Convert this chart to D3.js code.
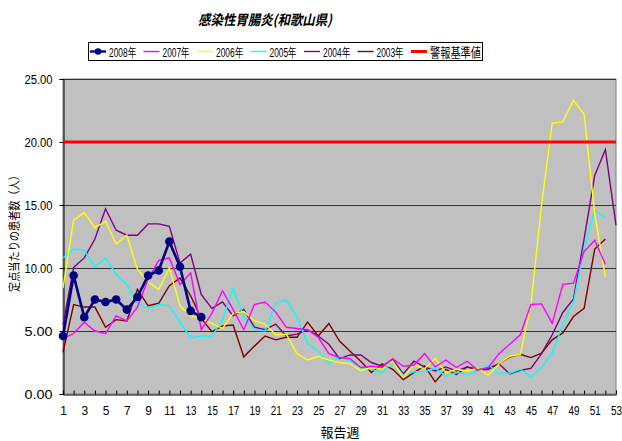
<!DOCTYPE html>
<html><head><meta charset="utf-8">
<script src="https://cdn.jsdelivr.net/npm/d3@7"></script>
<style>
html,body{margin:0;padding:0;background:#fff;}
svg{display:block;}
</style></head>
<body>
<svg id="chart" width="622" height="441"></svg>
<script>
// ---- data ----
const weeks = d3.range(1, 54);
const xTickLabels = d3.range(1, 54, 2);
const yTicks = [0, 5, 10, 15, 20, 25];
const seriesNames = ["2008年", "2007年", "2006年", "2005年", "2004年", "2003年"];
const alertName = "警報基準値";
const alertLevel = 20;

const s2008 = [4.6, 9.4, 6.1, 7.5, 7.3, 7.5, 6.7, 7.7, 9.4, 9.8, 12.1, 10.1, 6.6, 6.1];
const s2007 = [4.4, 4.8, 5.7, 5.0, 4.8, 6.2, 5.8, 6.9, 9.1, 10.6, 10.8, 8.7, 9.6, 5.1, 6.4, 8.2, 6.7, 5.1, 7.1, 7.3,
  6.5, 5.3, 5.2, 5.1, 4.5, 3.2, 2.9, 2.8, 2.1, 2.2, 2.1, 2.8, 2.2, 2.3, 3.2, 2.15, 2.7, 2.1, 2.6, 1.9,
  2.1, 3.2, 3.95, 4.7, 7.1, 7.15, 5.6, 8.7, 8.8, 11.3, 12.2, 10.3];
const s2006 = [8.4, 13.8, 14.4, 13.2, 13.7, 11.9, 12.6, 9.9, 8.9, 8.3, 10.0, 7.0, 6.2, 5.95, 5.6, 5.2, 6.4, 6.55, 5.8, 5.55,
  4.7, 4.75, 3.2, 2.7, 2.97, 2.7, 2.5, 2.4, 1.85, 2.1, 2.0, 2.6, 1.3, 2.3, 2.0, 2.84, 1.7, 1.96, 1.83, 2.04,
  1.5, 2.4, 3.0, 3.15, 7.1, 15.0, 21.5, 21.6, 23.3, 22.2, 14.3, 9.3];
const s2005 = [10.8, 11.5, 11.4, 10.1, 10.8, 9.5, 8.7, 7.2, 6.8, 7.1, 7.0, 5.7, 4.45, 4.6, 4.6, 5.9, 8.4, 6.1, 5.15, 5.0,
  7.2, 7.45, 6.1, 4.0, 3.4, 2.4, 2.95, 2.6, 2.1, 1.96, 1.7, 2.5, 1.5, 1.75, 1.8, 2.04, 1.43, 1.7, 1.56, 1.83,
  2.3, 1.65, 1.65, 1.96, 1.35, 2.1, 3.25, 5.5, 7.3, 11.5, 14.6, 14.0];
const s2004 = [5.5, 10.05, 10.8, 12.3, 14.7, 13.0, 12.6, 12.6, 13.5, 13.5, 13.3, 10.4, 11.1, 7.9, 6.8, 7.3, 6.2, 6.7, 5.3, 5.1,
  5.55, 4.6, 4.75, 5.1, 4.6, 3.95, 2.8, 3.1, 3.1, 2.5, 2.2, 2.76, 1.6, 2.6, 2.15, 1.83, 2.15, 1.83, 2.15, 1.88,
  1.96, 2.4, 1.6, 1.88, 2.04, 3.2, 4.7, 6.47, 7.55, 12.3, 17.35, 19.4, 13.4];
const s2003 = [3.3, 7.1, 6.9, 6.9, 5.3, 5.9, 5.8, 8.3, 7.0, 7.2, 8.6, 9.2, 7.8, 6.0, 4.95, 5.4, 5.47, 2.95, 3.8, 4.6,
  4.3, 4.5, 4.5, 5.7, 4.6, 5.6, 4.2, 3.4, 2.6, 1.7, 2.4, 1.96, 1.15, 1.7, 2.23, 0.96, 1.96, 1.56, 2.15, 1.96,
  2.04, 2.41, 2.94, 3.15, 2.89, 3.25, 4.3, 4.85, 6.15, 6.8, 11.5, 12.3];

const seriesValues = [s2008, s2007, s2006, s2005, s2004, s2003];
const seriesColors = ["#000080", "#FF00FF", "#FFFF00", "#00FFFF", "#800080", "#800000"];
const alertColor = "#FF0000";

// ---- layout ----
const svg = d3.select("#chart");
const plot = {left: 63, right: 616, top: 79, bottom: 394};
const x = d3.scaleLinear().domain([1, 53]).range([plot.left, plot.right]);
const y = d3.scaleLinear().domain([0, 25]).range([plot.bottom, plot.top]);
const numFont = "'Liberation Sans', Arial, sans-serif";
const cjkFont = "'Noto Sans CJK JP', 'Noto Sans CJK SC', sans-serif";

// title
svg.append("text")
  .attr("x", 265).attr("y", 25)
  .attr("text-anchor", "middle")
  .attr("font-family", cjkFont)
  .attr("font-size", 14).attr("font-weight", "bold").attr("font-style", "italic")
  .attr("textLength", 134).attr("lengthAdjust", "spacingAndGlyphs")
  .text("感染性胃腸炎(和歌山県)");

// plot area
svg.append("rect")
  .attr("x", plot.left).attr("y", plot.top)
  .attr("width", plot.right - plot.left).attr("height", plot.bottom - plot.top)
  .attr("fill", "#C0C0C0").attr("stroke", "#808080").attr("stroke-width", 1);

// gridlines
svg.append("g").selectAll("line").data(yTicks.filter(d => d > 0)).join("line")
  .attr("x1", plot.left).attr("x2", plot.right)
  .attr("y1", d => Math.round(y(d)) + 0.5).attr("y2", d => Math.round(y(d)) + 0.5)
  .attr("stroke", "#333").attr("stroke-width", 1);

// axes
const yAxis = d3.axisLeft(y).tickValues(yTicks).tickSize(4).tickPadding(7).tickFormat(d3.format(".2f"));
const gy = svg.append("g").attr("transform", `translate(${plot.left + 0.5},0)`).call(yAxis);
gy.select(".domain").attr("stroke", "#000");
gy.selectAll("text").attr("font-family", numFont).attr("font-size", 12.5).attr("fill", "#000")
  .attr("textLength", 28).attr("lengthAdjust", "spacingAndGlyphs");

const xAxis = d3.axisBottom(x).tickValues(weeks).tickSizeInner(-4).tickSizeOuter(0).tickPadding(12)
  .tickFormat(d => xTickLabels.includes(d) ? String(d) : "");
const gx = svg.append("g").attr("transform", `translate(0,${plot.bottom + 0.5})`).call(xAxis);
gx.select(".domain").attr("stroke", "#000");
gx.selectAll("text").attr("font-family", numFont).attr("font-size", 12).attr("fill", "#000")
  .each(function(d){ if (String(d).length > 1) d3.select(this).attr("textLength", 11).attr("lengthAdjust", "spacingAndGlyphs"); });

// axis titles
svg.append("text")
  .attr("transform", "translate(19,231) rotate(-90)")
  .attr("text-anchor", "middle")
  .attr("font-family", cjkFont).attr("font-size", 12)
  .attr("textLength", 122).attr("lengthAdjust", "spacingAndGlyphs")
  .text("定点当たりの患者数（人）");
svg.append("text")
  .attr("x", 340).attr("y", 437)
  .attr("text-anchor", "middle")
  .attr("font-family", cjkFont).attr("font-size", 13)
  .text("報告週");

// series lines
const line = d3.line().x((d, i) => x(weeks[i])).y(d => y(d));
const gLines = svg.append("g");
for (let k = seriesValues.length - 1; k >= 1; k--) {
  gLines.append("path")
    .attr("d", line(seriesValues[k]))
    .attr("fill", "none").attr("stroke", seriesColors[k]).attr("stroke-width", 1.4)
    .attr("stroke-linejoin", "miter");
}
// 2008 with markers
gLines.append("path")
  .attr("d", line(s2008))
  .attr("fill", "none").attr("stroke", seriesColors[0]).attr("stroke-width", 2.6);
gLines.append("g").selectAll("circle").data(s2008).join("circle")
  .attr("cx", (d, i) => x(weeks[i])).attr("cy", d => y(d)).attr("r", 4.3)
  .attr("fill", seriesColors[0]);

// alert line
svg.append("line")
  .attr("x1", x(weeks[0])).attr("x2", x(weeks[weeks.length - 1]))
  .attr("y1", y(alertLevel)).attr("y2", y(alertLevel))
  .attr("stroke", alertColor).attr("stroke-width", 3.2);

// legend
const legend = svg.append("g");
legend.append("rect").attr("x", 88.5).attr("y", 42.5).attr("width", 394).attr("height", 18)
  .attr("fill", "#fff").attr("stroke", "#000").attr("stroke-width", 1);
const legItems = seriesNames.map((n, i) => ({name: n, color: seriesColors[i], w: 27}))
  .concat([{name: alertName, color: alertColor, w: 51}]);
legItems.forEach((it, i) => {
  const x0 = 90 + i * 53.5;
  const g = legend.append("g");
  g.append("line").attr("x1", x0).attr("x2", x0 + 16).attr("y1", 51.5).attr("y2", 51.5)
    .attr("stroke", it.color).attr("stroke-width", i === 0 ? 2.4 : (i === 6 ? 3 : 1.4));
  if (i === 0) g.append("circle").attr("cx", x0 + 8).attr("cy", 51.5).attr("r", 3.3).attr("fill", it.color);
  g.append("text").attr("x", x0 + 19).attr("y", 56.5)
    .attr("font-family", i === 6 ? cjkFont : numFont).attr("font-size", 13)
    .attr("textLength", it.w).attr("lengthAdjust", "spacingAndGlyphs")
    .text(it.name);
});
</script>
</body></html>
